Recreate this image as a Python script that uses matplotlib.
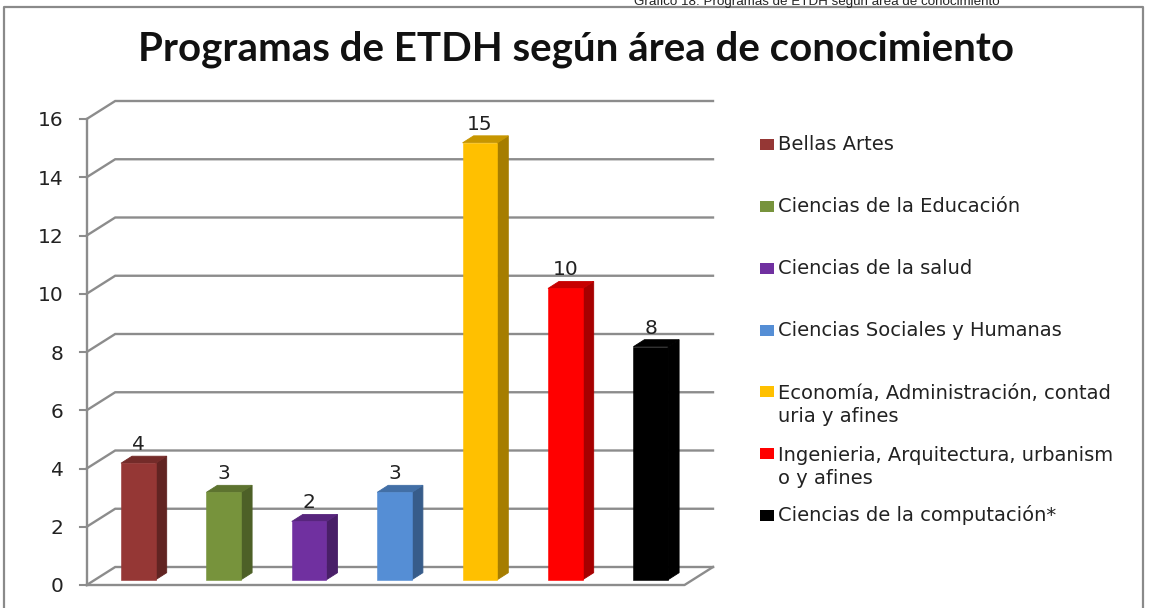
import matplotlib
matplotlib.use("Agg")
import matplotlib.pyplot as plt
from matplotlib.patches import Polygon, Rectangle

categories = [
    "Bellas Artes",
    "Ciencias de la Educación",
    "Ciencias de la salud",
    "Ciencias Sociales y Humanas",
    "Economía, Administración, contad\nuria y afines",
    "Ingenieria, Arquitectura, urbanism\no y afines",
    "Ciencias de la computación*",
]
values = [4, 3, 2, 3, 15, 10, 8]
y_ticks = [0, 2, 4, 6, 8, 10, 12, 14, 16]
colors = ["#953735", "#77933c", "#7030a0", "#558ed5", "#ffc000", "#ff0000", "#000000"]

title = "Programas de ETDH según área de conocimiento"
caption = "Gráfico 18: Programas de ETDH según área de conocimiento"

W, H = 1149, 608
GRID = "#8c8c8c"


def shade(color, f):
    r, g, b = matplotlib.colors.to_rgb(color)
    return (r * f, g * f, b * f)


fig = plt.figure(figsize=(W / 100, H / 100), dpi=100)
fig.patch.set_facecolor("white")

# front plane of the 3d box, one category = 85.4 px, one unit = 29.1 px
ax = fig.add_axes([86.7 / W, (H - 585) / H, 597.8 / W, 466 / H])
ax.set_xlim(0, 7)
ax.set_ylim(0, 16)
ax.axis("off")

# depth of the box and of the bars, in data units
wall_dx = 28.5 / 85.4
wall_dy = 18 / 29.125
bar_dx = 11 / 85.4
bar_dy = 7 / 29.125
bar_w = 34.7 / 85.4
bar_shift_x = 34.3 / 85.4
bar_shift_y = 5.3 / 29.125

# walls
for t in y_ticks:
    ax.plot([0, wall_dx, 7 + wall_dx], [t, t + wall_dy, t + wall_dy],
            color=GRID, lw=1.7, clip_on=False, zorder=1, solid_joinstyle="miter")
    ax.plot([-7 / 85.4, 0], [t, t], color=GRID, lw=1.5, clip_on=False, zorder=1)
ax.plot([0, 0], [0, 16], color=GRID, lw=1.7, clip_on=False, zorder=1)
ax.plot([0, 7, 7 + wall_dx], [0, 0, wall_dy], color=GRID, lw=1.7, clip_on=False, zorder=1)

for t in y_ticks:
    ax.text(-23 / 85.4, t, str(t), ha="right", va="center_baseline", fontsize=14.5,
            color="#222222", clip_on=False)

# bars
for i, v in enumerate(values):
    x0 = i + bar_shift_x
    x1 = x0 + bar_w
    y0 = bar_shift_y
    y1 = v + bar_shift_y
    c = colors[i]
    side = shade(c, 0.65)
    top = shade(c, 0.78)
    ax.add_patch(Polygon([(x1, y0), (x1 + bar_dx, y0 + bar_dy), (x1 + bar_dx, y1 + bar_dy), (x1, y1)],
                         facecolor=side, edgecolor=side, lw=0.6, zorder=3, clip_on=False))
    ax.add_patch(Polygon([(x0, y1), (x1, y1), (x1 + bar_dx, y1 + bar_dy), (x0 + bar_dx, y1 + bar_dy)],
                         facecolor=top, edgecolor=top, lw=0.6, zorder=3, clip_on=False))
    ax.add_patch(Rectangle((x0, y0), bar_w, v, facecolor=c, edgecolor=c, lw=0.4, zorder=4, clip_on=False))
    ax.text(x0 + bar_w / 2, y1 + 0.64, str(v), ha="center", va="center", fontsize=14.5,
            color="#222222", zorder=5, clip_on=False)

# outer frame, runs off the bottom of the picture
fig.add_artist(plt.Line2D([4 / W, 4 / W, 1142.5 / W, 1142.5 / W],
                          [0, (H - 7) / H, (H - 7) / H, 0], color="#8a8a8a", lw=1.6))

fig.text(576 / W, (H - 49) / H, title, ha="center", va="center", fontsize=29,
         fontweight="bold", family="Lato", color="#111111")
# the caption is cut by the top edge in the original too
fig.text(817 / W, (H - 5) / H, caption, ha="center", va="baseline", fontsize=9.6,
         family="Liberation Sans", color="#222222")

# legend rows are not evenly spaced in the original
marker_y = [144, 206, 268, 330, 391, 453, 515]
text_y = [144, 206, 268, 330, 405, 467, 515]
for name, c, my, ty in zip(categories, colors, marker_y, text_y):
    fig.add_artist(Rectangle((760 / W, (H - my - 6) / H), 13.5 / W, 11 / H,
                             facecolor=c, edgecolor="none", transform=fig.transFigure))
    fig.text(778 / W, (H - ty) / H, name, ha="left", va="center", fontsize=14,
             color="#222222", linespacing=1.22)

fig.savefig("out.png", dpi=100)
